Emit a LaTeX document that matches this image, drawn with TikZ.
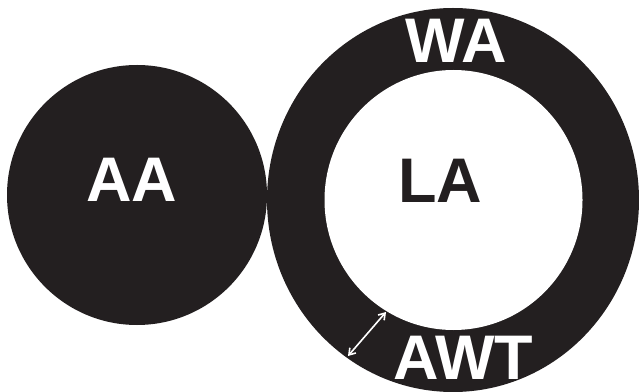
\documentclass[tikz,border=0pt]{standalone}
\usepackage{fontspec}
\setmainfont{Liberation Sans}
\usetikzlibrary{arrows.meta,shapes.geometric}
\definecolor{ink}{HTML}{231F20}
\tikzset{
  blob/.style={ellipse,fill=ink,draw=none,inner sep=0pt},
  lbl/.style={anchor=base,inner sep=0pt,font=\fontsize{63}{70}\selectfont\bfseries},
  ar/.style={{Straight Barb[length=6pt,width=8pt]}-{Straight Barb[length=6pt,width=8pt]},line width=1.6pt,draw=white},
}

\begin{document}
\begin{tikzpicture}[x=1pt,y=1pt]
  \useasboundingbox (0,0) rectangle (639,391);
  % atria
  \node[blob,minimum width=260pt,minimum height=260pt] (aa) at (137,196) {};
  \node[blob,minimum width=372pt,minimum height=384pt] (wa) at (453,191) {};
  \node[blob,fill=white,minimum width=258pt,minimum height=260pt] (la) at (453.5,191) {};
  % labels
  \node[lbl,white] (aat) at (132,189) {AA};
  \node[lbl,ink] (lat) at (440,188) {LA};
  \node[lbl,white] (wat) at (456,328) {WA};
  \node[lbl,white] (awt) at (463,12) {AWT};
  % wall thickness
  \coordinate (w1) at (348,35);
  \coordinate (w2) at (386,79);
  \draw[ar] (w1) -- (w2);
\end{tikzpicture}
\end{document}
